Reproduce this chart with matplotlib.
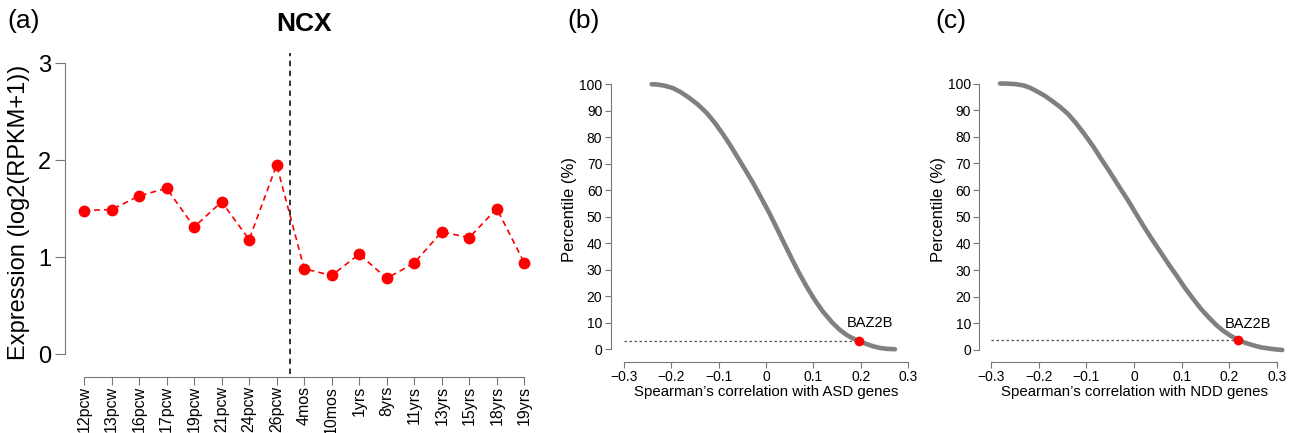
import matplotlib
matplotlib.use("Agg")
import matplotlib.pyplot as plt

plt.rcParams['font.family'] = ['Liberation Sans', 'DejaVu Sans']

# Panel (a): NCX expression across developmental stages
stages = ["12pcw", "13pcw", "16pcw", "17pcw", "19pcw", "21pcw", "24pcw", "26pcw",
          "4mos", "10mos", "1yrs", "8yrs", "11yrs", "13yrs", "15yrs", "18yrs", "19yrs"]
expression = [1.48, 1.49, 1.63, 1.71, 1.31, 1.57, 1.18, 1.95,
              0.88, 0.81, 1.03, 0.78, 0.94, 1.26, 1.20, 1.50, 0.94]
birth_split = 7.5

# Panel (b): percentile curve vs correlation with ASD genes
asd_corr = [-0.2415, -0.230, -0.215, -0.196, -0.180, -0.161, -0.143, -0.125, -0.108,
            -0.090, -0.075, -0.059, -0.043, -0.027, -0.010, 0.008, 0.025, 0.043,
            0.056, 0.068, 0.085, 0.103, 0.120, 0.140, 0.155, 0.170, 0.184, 0.196,
            0.210, 0.226, 0.240, 0.255, 0.272]
asd_pct = [100, 99.9, 99.5, 98.5, 97.0, 94.7, 92.2, 89.1, 85.4,
           80.9, 76.8, 72.1, 67.4, 62.6, 57.0, 51.0, 44.8, 38.2,
           33.5, 29.3, 23.8, 18.5, 14.2, 10.0, 7.4, 5.4, 4.0, 3.1,
           2.1, 1.1, 0.5, 0.15, 0]
asd_gene = (0.196, 3.1)

# Panel (c): percentile curve vs correlation with NDD genes
ndd_corr = [-0.281, -0.265, -0.250, -0.232, -0.218, -0.205, -0.188, -0.172, -0.155,
            -0.138, -0.121, -0.104, -0.086, -0.068, -0.050, -0.032, -0.012, 0.003,
            0.019, 0.036, 0.054, 0.071, 0.089, 0.106, 0.124, 0.141, 0.159, 0.173,
            0.187, 0.202, 0.2175, 0.233, 0.249, 0.266, 0.284, 0.298, 0.311]
ndd_pct = [100, 99.95, 99.8, 99.3, 98.4, 97.2, 95.5, 93.5, 91.2,
           88.5, 85.0, 81.0, 76.5, 71.5, 66.6, 61.5, 56.0, 51.5,
           46.8, 42.0, 37.2, 32.6, 28.0, 23.5, 19.2, 15.3, 11.8, 9.3,
           7.2, 5.4, 3.9, 2.7, 1.8, 1.0, 0.5, 0.2, 0]
ndd_gene = (0.2175, 3.9)

corr_ticks = [-0.3, -0.2, -0.1, 0, 0.1, 0.2, 0.3]
corr_labels = ["\u22120.3", "\u22120.2", "\u22120.1", "0", "0.1", "0.2", "0.3"]
pct_ticks = list(range(0, 101, 10))

spine_col = "#777777"

fig = plt.figure(figsize=(12.96, 4.33), dpi=100)

# ---- panel (a) ----
ax = fig.add_axes([0.0502, 0.1293, 0.369, 0.748])
xs = list(range(len(stages)))
ax.plot(xs, expression, color="red", linestyle=(0, (3.5, 2.5)), linewidth=1.2)
ax.plot(xs, expression, "o", color="red", markersize=8.5, markeredgewidth=0)
ax.axvline(birth_split, color="#222222", linestyle=(0, (3, 2.5)), linewidth=1.3, ymin=0.01)
ax.set_xlim(-0.69, 16.69)
ax.set_ylim(-0.237, 3.103)
ax.set_yticks([0, 1, 2, 3])
ax.set_xticks(xs)
ax.set_xticklabels(stages, rotation=90, fontsize=11.5)
ax.tick_params(axis="y", labelsize=17, length=7, color=spine_col, pad=3)
ax.tick_params(axis="x", length=5.5, color=spine_col, pad=1)
for s in ["top", "right"]:
    ax.spines[s].set_visible(False)
ax.spines["left"].set_bounds(0, 3)
ax.spines["bottom"].set_bounds(0, 16)
for s in ["left", "bottom"]:
    ax.spines[s].set_color(spine_col)
ax.set_ylabel("Expression (log2(RPKM+1))", fontsize=17)
ax.yaxis.set_label_coords(-0.073, 0.509)
ax.set_title("NCX", fontsize=19, fontweight="bold", pad=16)
fig.text(0.006, 0.952, "(a)", fontsize=19, va="center")


# helper for the two percentile panels
def percentile_panel(rect, corr, pct, gene, text_xy, xlabel, xlim, ylim, tag, tag_x):
    ax = fig.add_axes(rect)
    ax.plot(corr, pct, color="#808080", linewidth=3.3, solid_capstyle="round",
            solid_joinstyle="round")
    ax.plot([-0.3, gene[0]], [gene[1], gene[1]], color="#555555",
            linestyle=(0, (2, 2)), linewidth=0.9)
    ax.plot(gene[0], gene[1], "o", color="red", markersize=7, markeredgewidth=0)
    ax.text(text_xy[0], text_xy[1], "BAZ2B", fontsize=10.5, ha="center", va="center")
    ax.set_xlim(*xlim)
    ax.set_ylim(*ylim)
    ax.set_xticks(corr_ticks)
    ax.set_xticklabels(corr_labels)
    ax.set_yticks(pct_ticks)
    ax.tick_params(labelsize=10, length=4, color=spine_col, pad=2)
    for s in ["top", "right"]:
        ax.spines[s].set_visible(False)
    ax.spines["left"].set_bounds(0, 100)
    ax.spines["bottom"].set_bounds(-0.3, 0.3)
    for s in ["left", "bottom"]:
        ax.spines[s].set_color(spine_col)
    ax.set_xlabel(xlabel, fontsize=10.8, labelpad=1)
    ax.set_ylabel("Percentile (%)", fontsize=12)
    ax.yaxis.set_label_coords(-0.107, 0.525)
    fig.text(tag_x, 0.952, tag, fontsize=19, va="center")
    return ax


percentile_panel([0.4712, 0.1647, 0.2402, 0.6695], asd_corr, asd_pct, asd_gene,
                 (0.219, 9.9), "Spearman\u2019s correlation with ASD genes",
                 (-0.328, 0.329), (-4.7, 104.7), "(b)", 0.438)
percentile_panel([0.7556, 0.1647, 0.2397, 0.6695], ndd_corr, ndd_pct, ndd_gene,
                 (0.239, 9.6), "Spearman\u2019s correlation with NDD genes",
                 (-0.3245, 0.327), (-4.4, 104.4), "(c)", 0.722)

fig.savefig("out.png", dpi=100)
